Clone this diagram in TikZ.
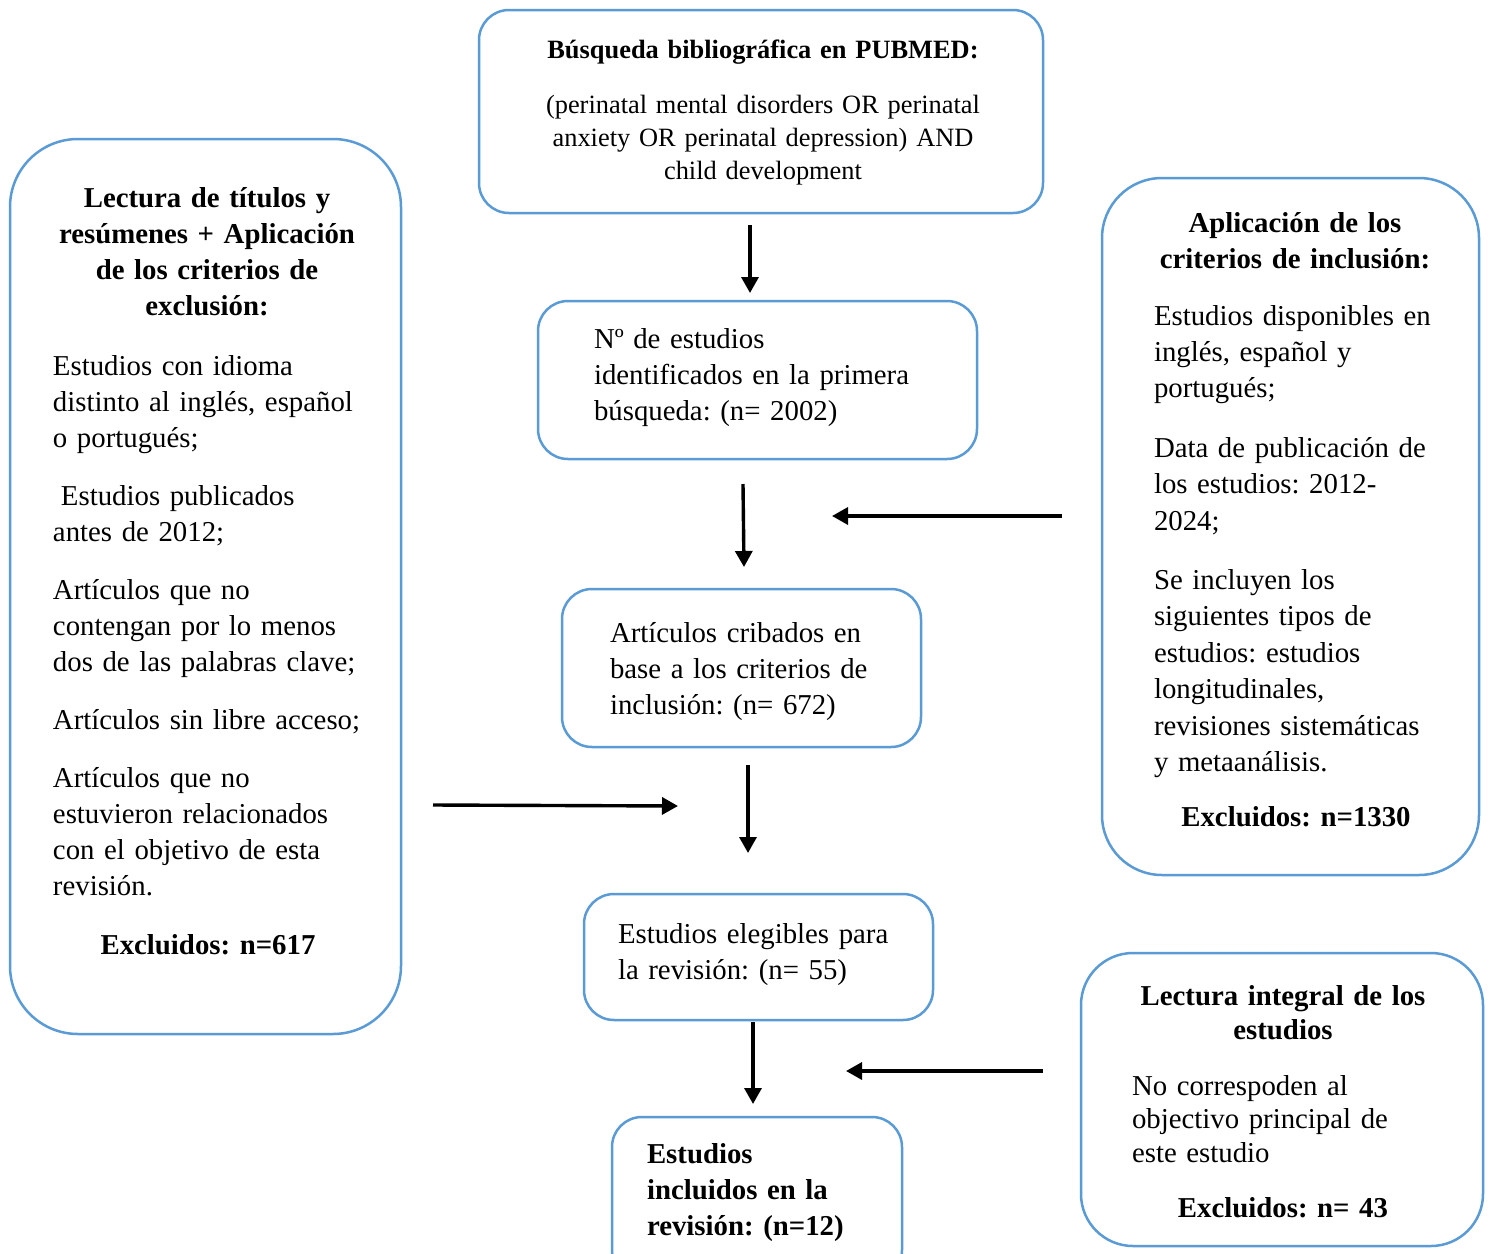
\documentclass[tikz,border=0pt]{standalone}
\usepackage{fontspec}
\setmainfont{Liberation Serif}
\usetikzlibrary{arrows.meta}
\definecolor{boxblue}{HTML}{5B9BD5}
\frenchspacing
\begin{document}
\begin{tikzpicture}[x=0.5pt,y=-0.5pt,
  box/.style={draw=boxblue, line width=1.25pt, inner sep=0pt, outer sep=0pt, rounded corners=15pt},
  body/.style={inner sep=0pt, outer sep=0pt, font=\fontsize{14.4}{18}\selectfont, text width=200pt, align=left, anchor=base west},
  bodyb/.style={body, font=\fontsize{14.4}{18}\selectfont\bfseries},
  headc/.style={inner sep=0pt, outer sep=0pt, font=\fontsize{14.4}{18}\selectfont\bfseries, text width=200pt, align=center, anchor=base},
  topc/.style={inner sep=0pt, outer sep=0pt, font=\fontsize{13.2}{16.5}\selectfont, text width=260pt, align=center, anchor=base},
  flow/.style={line width=1.7pt, -{Triangle[width=8.5pt,length=8pt]}}]
\useasboundingbox (0,0) rectangle (1490,1254);
\fill[white] (0,0) rectangle (1490,1254);
\clip (0,0) rectangle (1490,1254);

% boxes
\node[box, minimum width=282pt, minimum height=101.5pt] (b1) at (761,111.5) {};
\node[box, minimum width=219.5pt, minimum height=79pt] (b2) at (757.5,380) {};
\node[box, minimum width=179.5pt, minimum height=79pt] (b3) at (741.5,668) {};
\node[box, minimum width=174.5pt, minimum height=63pt] (b4) at (758.5,957) {};
\node[box, minimum width=145pt, minimum height=81.5pt] (b5) at (757,1198.5) {};
\node[box, rounded corners=34pt, minimum width=195.5pt, minimum height=447.5pt] (bl) at (205.5,586.5) {};
\node[box, rounded corners=30pt, minimum width=188.5pt, minimum height=348.5pt] (br1) at (1290.5,526.5) {};
\node[box, rounded corners=26pt, minimum width=201pt, minimum height=146.5pt] (br2) at (1282,1099.5) {};

% top box
\node[topc, font=\fontsize{13.2}{16.5}\selectfont\bfseries] (tt) at (763,58) {Búsqueda bibliográfica en PUBMED:};
\node[topc] (tb) at (763,113) {(perinatal mental disorders OR perinatal\\ anxiety OR perinatal depression) AND\\ child development};

% central boxes
\node[body] (t2) at (594,348) {Nº de estudios\\ identificados en la primera\\ búsqueda: (n= 2002)};
\node[body] (t3) at (610,642) {Artículos cribados en\\ base a los criterios de\\ inclusión: (n= 672)};
\node[body] (t4) at (618,943) {Estudios elegibles para\\ la revisión: (n= 55)};
\node[bodyb] (t5) at (647,1163) {Estudios\\ incluidos en la\\ revisión: (n=12)};

% left box
\node[headc] (lt) at (207,207) {Lectura de títulos y\\ resúmenes + Aplicación\\ de los criterios de\\ exclusión:};
\node[body] (lb) at (53,375) {Estudios con idioma\\ distinto al inglés, español\\ o portugués;\\[11pt] \hspace*{4pt}Estudios publicados\\ antes de 2012;\\[11pt] Artículos que no\\ contengan por lo menos\\ dos de las palabras clave;\\[11pt] Artículos sin libre acceso;\\[11pt] Artículos que no\\ estuvieron relacionados\\ con el objetivo de esta\\ revisión.};
\node[headc] (lx) at (208,954) {Excluidos: n=617};

% right box 1
\node[headc] (r1t) at (1295,232) {Aplicación de los\\ criterios de inclusión:};
\node[body, font=\fontsize{14.4}{18.2}\selectfont] (r1b) at (1154,325) {Estudios disponibles en\\ inglés, español y\\ portugués;\\[11.5pt] Data de publicación de\\ los estudios: 2012-\\ 2024;\\[11.5pt] Se incluyen los\\ siguientes tipos de\\ estudios: estudios\\ longitudinales,\\ revisiones sistemáticas\\ y metaanálisis.};
\node[headc] (r1x) at (1296,826) {Excluidos: n=1330};

% right box 2
\node[headc, font=\fontsize{14.4}{17}\selectfont\bfseries] (r2t) at (1283,1005) {Lectura integral de los\\ estudios};
\node[body, font=\fontsize{14.4}{16.8}\selectfont] (r2b) at (1132,1095) {No correspoden al\\ objectivo principal de\\ este estudio};
\node[headc] (r2x) at (1283,1217) {Excluidos: n= 43};

% arrows
\coordinate (a1s) at (750,225); \coordinate (a1e) at (750,293);
\coordinate (a2s) at (743,484); \coordinate (a2e) at (744,567);
\coordinate (a3s) at (748,765); \coordinate (a3e) at (748,853);
\coordinate (a4s) at (753,1022); \coordinate (a4e) at (753,1104);
\coordinate (h1s) at (1062,516); \coordinate (h1e) at (832,516);
\coordinate (h2s) at (433,805); \coordinate (h2e) at (678,806);
\coordinate (h3s) at (1043,1071); \coordinate (h3e) at (846,1071);
\draw[flow] (a1s) -- (a1e);
\draw[flow] (a2s) -- (a2e);
\draw[flow] (a3s) -- (a3e);
\draw[flow] (a4s) -- (a4e);
\draw[flow] (h1s) -- (h1e);
\draw[flow] (h2s) -- (h2e);
\draw[flow] (h3s) -- (h3e);
\end{tikzpicture}
\end{document}
